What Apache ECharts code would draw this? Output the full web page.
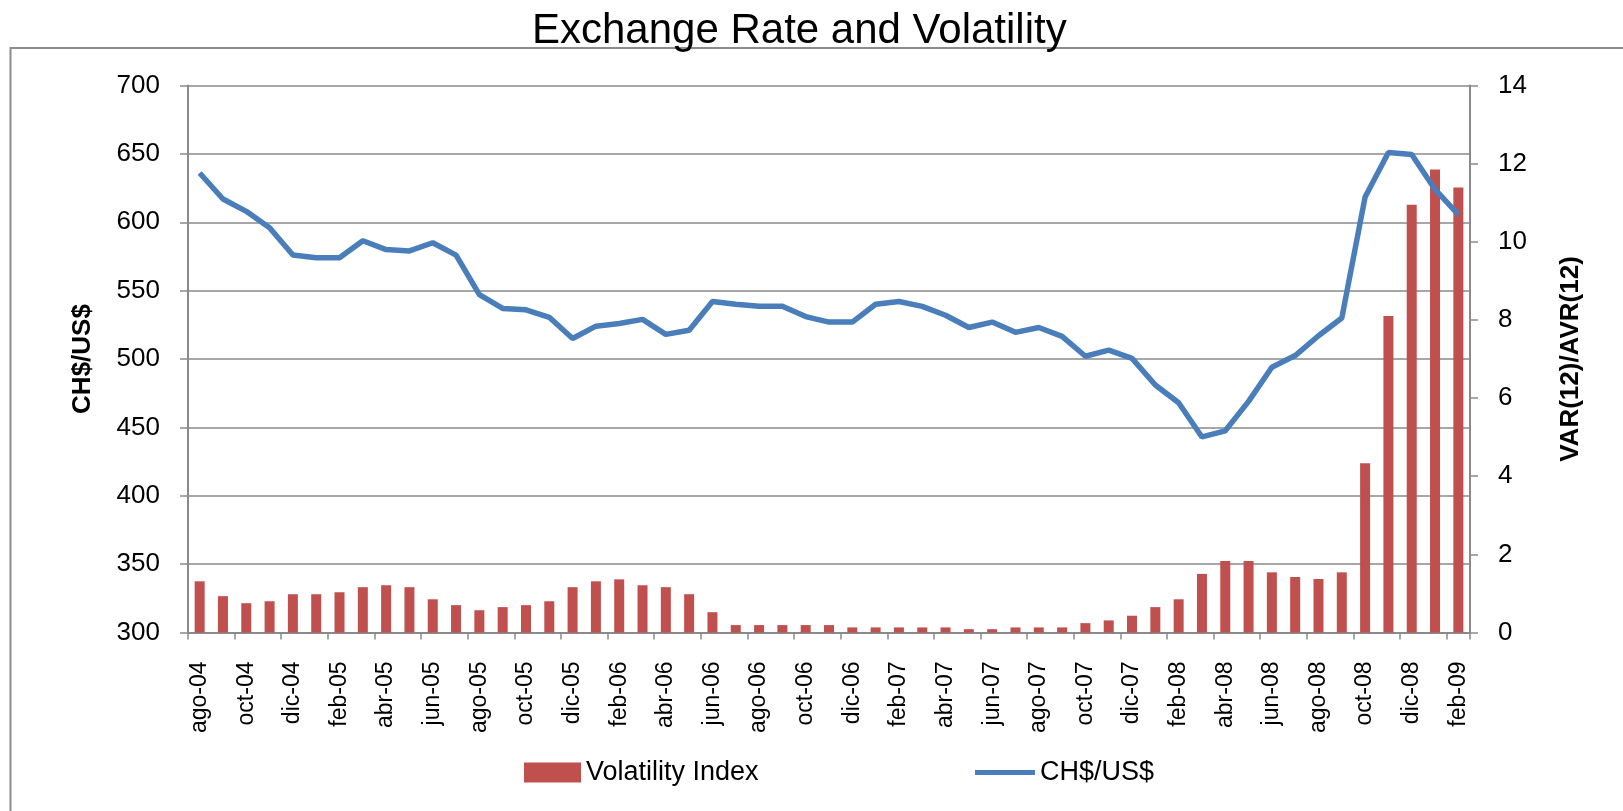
<!DOCTYPE html>
<html>
<head>
<meta charset="utf-8">
<title>Exchange Rate and Volatility</title>
<script src="https://cdn.jsdelivr.net/npm/echarts@6/dist/echarts.min.js"></script>
<style>
	html, body { margin: 0; padding: 0; background: #fff; }
	#chart { width: 1623px; height: 811px; }
</style>
</head>
<body>
<div id="chart"></div>
<script>
	//meses ago-04 .. feb-09
	var months = [
		'ago-04', 'sep-04', 'oct-04', 'nov-04', 'dic-04',
		'ene-05', 'feb-05', 'mar-05', 'abr-05', 'may-05', 'jun-05', 'jul-05', 'ago-05', 'sep-05', 'oct-05', 'nov-05', 'dic-05',
		'ene-06', 'feb-06', 'mar-06', 'abr-06', 'may-06', 'jun-06', 'jul-06', 'ago-06', 'sep-06', 'oct-06', 'nov-06', 'dic-06',
		'ene-07', 'feb-07', 'mar-07', 'abr-07', 'may-07', 'jun-07', 'jul-07', 'ago-07', 'sep-07', 'oct-07', 'nov-07', 'dic-07',
		'ene-08', 'feb-08', 'mar-08', 'abr-08', 'may-08', 'jun-08', 'jul-08', 'ago-08', 'sep-08', 'oct-08', 'nov-08', 'dic-08',
		'ene-09', 'feb-09'
	];
	//tipo de cambio CH$/US$
	var rateData = [
		636, 617, 608, 596, 576,
		574, 574, 586.5, 580, 579, 585, 576, 547, 537, 536, 530.5, 515,
		524, 526, 529, 518, 521, 542, 540, 538.5, 538.5, 531, 527, 527,
		540, 542, 538.5, 532, 523, 527, 519.5, 523, 516.5, 502, 506.5, 500.5,
		481, 468, 443, 447.5, 469, 494, 502.5, 517, 530, 618.5, 651, 649.5,
		624, 605.5
	];
	//indice de volatilidad VAR(12)/AVR(12)
	var volData = [
		1.31, 0.93, 0.75, 0.80, 0.98,
		0.98, 1.03, 1.16, 1.21, 1.16, 0.85, 0.70, 0.57, 0.65, 0.70, 0.80, 1.16,
		1.31, 1.36, 1.21, 1.16, 0.98, 0.52, 0.19, 0.19, 0.19, 0.19, 0.19, 0.13,
		0.13, 0.13, 0.13, 0.13, 0.085, 0.085, 0.13, 0.13, 0.13, 0.24, 0.31, 0.43,
		0.65, 0.85, 1.50, 1.83, 1.83, 1.54, 1.42, 1.37, 1.54, 4.33, 8.10, 10.95,
		11.85, 11.39
	];
	//escalas de los ejes
	var rateAxis = [300, 700, 50];
	var volAxis = [0, 14, 2];

	var font = 'Liberation Sans';
	var gray = '#8a8a8a';
	var blue = '#4a7ebb';
	var red = '#c0504d';

	var myChart = echarts.init(document.getElementById('chart'));
	var option = {
		backgroundColor: '#fff',
		textStyle: {
			fontFamily: font,
			color: '#000'
		},
		title: {
			text: 'Exchange Rate and Volatility',
			left: 532,
			top: 10,
			padding: 0,
			textStyle: {
				fontFamily: font,
				fontSize: 42,
				fontWeight: 'normal',
				color: '#000'
			}
		},
		//marco del grafico
		graphic: [{
			type: 'rect',
			silent: true,
			z: -1,
			shape: { x: 10.5, y: 48, width: 1700, height: 900 },
			style: { fill: 'none', stroke: '#8c8c8c', lineWidth: 2 }
		}],
		legend: [{
			data: [{ name: 'Volatility Index', icon: 'rect' }],
			left: 524,
			top: 759,
			padding: 0,
			itemWidth: 57,
			itemHeight: 20,
			selectedMode: false,
			textStyle: { fontSize: 27, color: '#000', fontFamily: font }
		}, {
			data: [{ name: 'CH$/US$', icon: 'rect', itemStyle: { color: blue } }],
			left: 975,
			top: 759,
			padding: 0,
			itemWidth: 60,
			itemHeight: 5,
			selectedMode: false,
			textStyle: { fontSize: 27, color: '#000', fontFamily: font }
		}],
		grid: {
			left: 188,
			right: 153,
			top: 85.5,
			bottom: 178.5,
			containLabel: false,
			outerBoundsMode: 'none'
		},
		xAxis: {
			type: 'category',
			data: months,
			boundaryGap: true,
			axisLine: {
				lineStyle: { color: gray, width: 2 }
			},
			axisTick: {
				show: true,
				interval: 1,
				length: 7,
				lineStyle: { color: gray, width: 1.5 }
			},
			axisLabel: {
				interval: 1,
				rotate: 90,
				margin: 29,
				fontSize: 23,
				color: '#000',
				fontFamily: font
			},
			splitLine: { show: false }
		},
		yAxis: [{
			type: 'value',
			position: 'left',
			min: rateAxis[0],
			max: rateAxis[1],
			interval: rateAxis[2],
			name: 'CH$/US$',
			nameLocation: 'middle',
			nameRotate: 90,
			nameGap: 92,
			nameTextStyle: { fontSize: 26, fontWeight: 'bold', color: '#000', fontFamily: font },
			axisLine: {
				show: true,
				lineStyle: { color: gray, width: 2 }
			},
			axisTick: {
				show: true,
				length: 8,
				lineStyle: { color: gray, width: 1.5 }
			},
			axisLabel: {
				margin: 28,
				fontSize: 26,
				color: '#000',
				fontFamily: font,
				padding: [5, 0, 0, 0]
			},
			splitLine: {
				lineStyle: { color: gray, width: 1.5 }
			}
		}, {
			type: 'value',
			position: 'right',
			min: volAxis[0],
			max: volAxis[1],
			interval: volAxis[2],
			name: 'VAR(12)/AVR(12)',
			nameLocation: 'middle',
			nameRotate: 90,
			nameGap: 88,
			nameTextStyle: { fontSize: 26, fontWeight: 'bold', color: '#000', fontFamily: font },
			axisLine: {
				show: true,
				lineStyle: { color: gray, width: 2 }
			},
			axisTick: {
				show: true,
				length: 8,
				lineStyle: { color: gray, width: 1.5 }
			},
			axisLabel: {
				margin: 28,
				fontSize: 26,
				color: '#000',
				fontFamily: font,
				padding: [5, 0, 0, 0]
			},
			splitLine: { show: false }
		}],
		series: [{
			name: 'Volatility Index',
			type: 'bar',
			yAxisIndex: 1,
			data: volData,
			barWidth: 10,
			itemStyle: { color: red }
		}, {
			name: 'CH$/US$',
			type: 'line',
			yAxisIndex: 0,
			data: rateData,
			symbol: 'none',
			showSymbol: false,
			lineStyle: { color: blue, width: 5.5 },
			itemStyle: { color: blue }
		}]
	};
	myChart.setOption(option);
</script>
</body>
</html>
